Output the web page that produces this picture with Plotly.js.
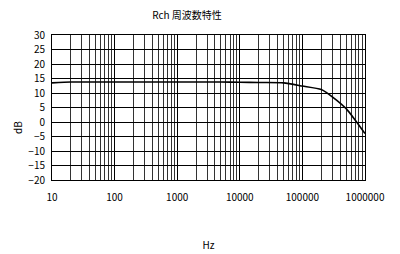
<!DOCTYPE html>
<html>
<head>
<meta charset="utf-8">
<script src="https://cdn.plot.ly/plotly-3.0.1.min.js"></script>
<style>
  html, body { margin: 0; padding: 0; background: #fff; }
  #chart { width: 400px; height: 254px; }
</style>
</head>
<body>
<div id="chart"></div>
<script>
// Frequency response of the right channel
const freqHz = [10, 20, 50, 100, 200, 500, 1000, 2000, 5000, 10000, 20000, 50000, 100000, 200000, 300000, 500000, 700000, 1000000];
const gainDb = [13.5, 13.8, 13.8, 13.8, 13.8, 13.8, 13.8, 13.8, 13.8, 13.7, 13.6, 13.5, 12.4, 11.2, 8.7, 4.6, 0.6, -4.0];

const xTickVals = [10, 100, 1000, 10000, 100000, 1000000];
const xTickText = ['10', '100', '1000', '10000', '100000', '1000000'];
const xMinorVals = [20,30,40,50,60,70,80,90,
  200,300,400,500,600,700,800,900,
  2000,3000,4000,5000,6000,7000,8000,9000,
  20000,30000,40000,50000,60000,70000,80000,90000,
  200000,300000,400000,500000,600000,700000,800000,900000];
const yTickVals = [-20, -15, -10, -5, 0, 5, 10, 15, 20, 25, 30];
const yTickText = ['\u221220', '\u221215', '\u221210', '\u22125', '0', '5', '10', '15', '20', '25', '30'];

const font = { family: '"Noto Sans CJK JP", "Liberation Sans", sans-serif', size: 10, color: '#000' };

Plotly.newPlot('chart', [{
  x: freqHz,
  y: gainDb,
  type: 'scatter',
  mode: 'lines',
  line: { color: '#000', width: 1.6, shape: 'spline', smoothing: 0.6 },
  hoverinfo: 'skip'
}], {
  width: 400,
  height: 254,
  margin: { l: 52, r: 35, t: 35, b: 74 },
  paper_bgcolor: '#fff',
  plot_bgcolor: '#fff',
  font: font,
  showlegend: false,
  title: {
    text: 'Rch 周波数特性',
    font: { family: font.family, size: 10, color: '#000' },
    x: 187 / 400, xanchor: 'center',
    y: 1 - 15 / 254, yanchor: 'middle'
  },
  xaxis: {
    type: 'log',
    range: [1, 6],
    tickvals: xTickVals,
    ticktext: xTickText,
    ticks: '',
    showline: true, linecolor: '#000', linewidth: 1, mirror: true,
    showgrid: true, gridcolor: '#000', gridwidth: 1,
    minor: { tickvals: xMinorVals, showgrid: true, gridcolor: '#333', gridwidth: 1, ticks: '' },
    zeroline: false,
    tickfont: font,
    ticklabelstandoff: 8,
    title: { text: 'Hz', font: font, standoff: 38 },
    fixedrange: true
  },
  yaxis: {
    range: [-20, 30],
    tickvals: yTickVals,
    ticktext: yTickText,
    ticks: '',
    showline: true, linecolor: '#000', linewidth: 1, mirror: true,
    showgrid: true, gridcolor: '#000', gridwidth: 1,
    zeroline: false,
    tickfont: font,
    ticklabelstandoff: 4,
    fixedrange: true
  },
  annotations: [{
    text: 'dB',
    font: font,
    textangle: -90,
    showarrow: false,
    xref: 'paper', yref: 'paper',
    x: (18 - 52) / 313, xanchor: 'center',
    y: (180 - 128) / 145, yanchor: 'middle'
  }]
}, { staticPlot: true, displayModeBar: false });
</script>
</body>
</html>
